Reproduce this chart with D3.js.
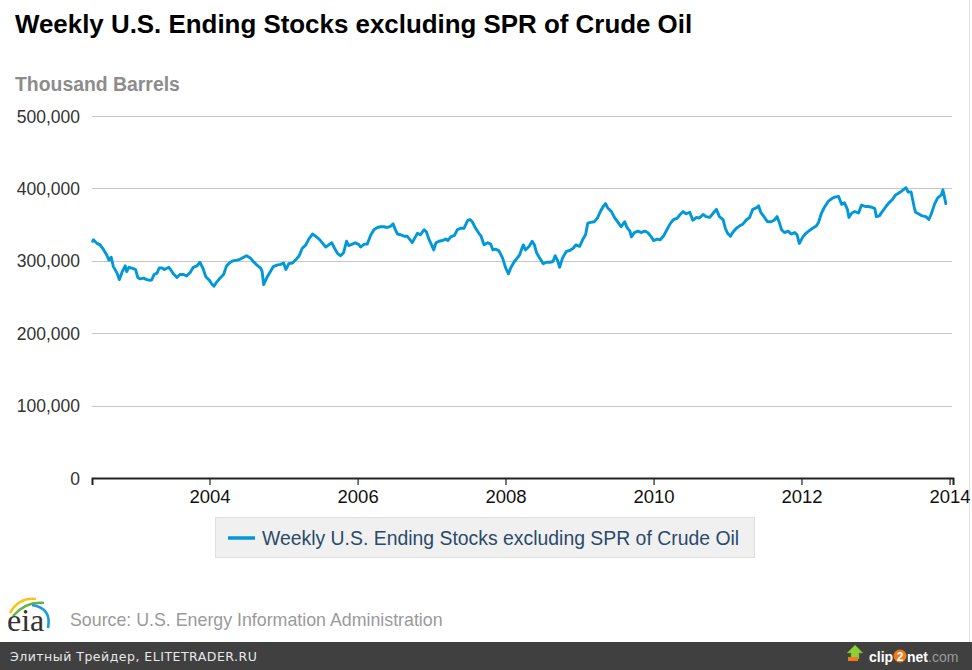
<!DOCTYPE html>
<html>
<head>
<meta charset="utf-8">
<script src="https://cdn.jsdelivr.net/npm/d3@7/dist/d3.min.js"></script>
<style>
  html, body { margin: 0; padding: 0; background: #fff; }
  svg { display: block; }
</style>
</head>
<body>
<svg id="chart" width="972" height="670"></svg>
<script>
// ---- data (decimal year, thousand barrels) ----
const title = "Weekly U.S. Ending Stocks excluding SPR of Crude Oil";
const unitLabel = "Thousand Barrels";
const seriesName = "Weekly U.S. Ending Stocks excluding SPR of Crude Oil";
const sourceText = "Source: U.S. Energy Information Administration";
const footerText = "Элитный Трейдер, ELITETRADER.RU";

const xDomain = ["2002-05-31", "2014-01-18"];
const yTicks = [0, 100000, 200000, 300000, 400000, 500000];

const years = [
  2002.42,2002.43,2002.48,2002.52,2002.57,2002.61,2002.64,2002.67,2002.70,2002.75,2002.78,2002.82,2002.86,2002.88,2002.91,2002.95,
  2003.00,2003.03,2003.06,2003.11,2003.15,2003.20,2003.22,2003.25,2003.29,2003.32,2003.36,2003.39,2003.45,2003.48,2003.51,2003.56,
  2003.60,2003.65,2003.69,2003.74,2003.78,2003.83,2003.87,2003.91,2003.95,
  2004.00,2004.03,2004.06,2004.10,2004.14,2004.19,2004.23,2004.28,2004.32,2004.37,2004.41,2004.46,2004.50,2004.55,2004.59,2004.64,
  2004.69,2004.71,2004.73,2004.78,2004.82,2004.86,2004.91,2004.96,
  2005.00,2005.03,2005.07,2005.12,2005.16,2005.21,2005.25,2005.30,2005.34,2005.39,2005.43,2005.48,2005.52,2005.57,2005.61,2005.65,
  2005.69,2005.73,2005.77,2005.81,2005.85,2005.88,2005.93,2005.97,
  2006.02,2006.04,2006.09,2006.13,2006.18,2006.22,2006.27,2006.31,2006.36,2006.40,2006.45,2006.48,2006.51,2006.54,2006.58,2006.63,
  2006.67,2006.71,2006.74,2006.77,2006.81,2006.85,2006.90,2006.93,2006.96,
  2007.00,2007.03,2007.06,2007.10,2007.15,2007.19,2007.22,2007.26,2007.31,2007.35,2007.40,2007.44,2007.49,2007.52,2007.55,2007.59,
  2007.64,2007.67,2007.71,2007.76,2007.80,2007.83,2007.87,2007.91,2007.96,
  2008.00,2008.04,2008.07,2008.12,2008.16,2008.19,2008.24,2008.27,2008.32,2008.36,2008.39,2008.42,2008.46,2008.51,2008.55,2008.60,
  2008.64,2008.67,2008.70,2008.73,2008.77,2008.82,2008.86,2008.91,2008.95,
  2009.00,2009.04,2009.08,2009.11,2009.15,2009.20,2009.24,2009.29,2009.32,2009.35,2009.38,2009.43,2009.47,2009.52,2009.56,2009.61,
  2009.64,2009.68,2009.70,2009.74,2009.79,2009.83,2009.88,2009.92,2009.97,
  2010.00,2010.05,2010.09,2010.14,2010.18,2010.23,2010.27,2010.32,2010.36,2010.40,2010.44,2010.49,2010.53,2010.58,2010.62,2010.67,
  2010.71,2010.76,2010.80,2010.85,2010.89,2010.94,2010.97,
  2011.00,2011.04,2011.07,2011.12,2011.16,2011.21,2011.25,2011.30,2011.34,2011.39,2011.42,2011.45,2011.50,2011.54,2011.59,2011.63,
  2011.67,2011.70,2011.73,2011.77,2011.82,2011.86,2011.91,2011.94,2011.97,
  2012.02,2012.06,2012.11,2012.15,2012.20,2012.23,2012.27,2012.31,2012.36,2012.41,2012.45,2012.50,2012.54,2012.58,2012.62,2012.64,
  2012.68,2012.72,2012.77,2012.81,2012.86,2012.90,2012.95,2012.99,
  2013.01,2013.05,2013.09,2013.14,2013.18,2013.23,2013.27,2013.32,2013.36,2013.41,2013.44,2013.48,2013.52,2013.54,2013.58,2013.63,
  2013.68,2013.72,2013.75,2013.80,2013.84,2013.89,2013.91,2013.95
];

const stocks = [
  327000,329000,324000,322000,315000,308000,301000,305000,292000,283000,274000,285000,293000,285000,291000,290000,
  288000,277000,275000,276000,274000,273000,274000,281000,283000,290000,290000,288000,291000,287000,282000,277000,
  281000,281000,279000,284000,291000,293000,298000,290000,278000,
  273000,268000,265000,271000,276000,281000,293000,298000,300000,301000,302000,305000,307000,304000,299000,294000,
  290000,285000,267000,278000,285000,292000,294000,295000,
  297000,288000,296000,297000,301000,307000,317000,322000,330000,337000,334000,330000,325000,319000,322000,325000,
  317000,310000,307000,311000,327000,321000,323000,325000,
  322000,319000,323000,323000,336000,343000,346000,347000,347000,346000,348000,351000,343000,337000,336000,334000,
  334000,329000,325000,331000,338000,336000,343000,340000,331000,
  322000,315000,325000,327000,328000,330000,328000,333000,335000,343000,345000,345000,356000,357000,354000,346000,
  338000,334000,322000,325000,323000,315000,316000,314000,304000,
  291000,282000,290000,299000,304000,308000,322000,315000,320000,327000,322000,311000,304000,296000,298000,298000,
  299000,307000,301000,291000,304000,313000,314000,317000,322000,
  320000,329000,336000,352000,353000,354000,359000,370000,375000,379000,373000,368000,360000,353000,347000,354000,
  346000,341000,333000,339000,341000,339000,341000,339000,333000,
  328000,330000,329000,335000,343000,352000,357000,359000,364000,368000,365000,367000,356000,360000,359000,364000,
  361000,360000,365000,371000,361000,357000,345000,
  338000,334000,339000,345000,348000,351000,356000,360000,371000,373000,376000,367000,360000,354000,354000,356000,
  361000,353000,343000,339000,341000,337000,339000,336000,324000,
  333000,338000,342000,345000,348000,353000,366000,374000,382000,386000,388000,389000,378000,380000,371000,360000,
  366000,368000,366000,377000,375000,375000,374000,372000,
  361000,362000,368000,375000,380000,385000,391000,394000,397000,401000,395000,395000,375000,367000,365000,362000,
  361000,357000,364000,379000,387000,391000,398000,379000
];

// ---- helpers ----
function fromDecimalYear(y) {
  const yr = Math.floor(y);
  const a = new Date(yr, 0, 1), b = new Date(yr + 1, 0, 1);
  return new Date(+a + (y - yr) * (b - a));
}
const data = years.map((y, i) => ({ date: fromDecimalYear(y), value: stocks[i] }));

const svg = d3.select("#chart");
const W = 972, H = 670;
const plot = { left: 92, right: 953, top: 116, bottom: 478 };

const x = d3.scaleTime()
  .domain(xDomain.map(s => new Date(s + "T00:00:00")))
  .range([plot.left, plot.right]);
const y = d3.scaleLinear().domain([0, 500000]).range([plot.bottom, plot.top]);

const font = "'Liberation Sans', Arial, Helvetica, sans-serif";

// right border line
svg.append("line").attr("x1", 969.5).attr("x2", 969.5).attr("y1", 0).attr("y2", 642)
  .attr("stroke", "#e2e2e2").attr("stroke-width", 1);

// title
svg.append("text").attr("x", 15).attr("y", 33)
  .attr("font-family", font).attr("font-weight", "bold").attr("font-size", 25.9)
  .attr("fill", "#000").text(title);

// unit label
svg.append("text").attr("x", 15).attr("y", 91)
  .attr("font-family", font).attr("font-weight", "bold").attr("font-size", 19.4)
  .attr("fill", "#8c8c8c").text(unitLabel);

// gridlines
svg.append("g").selectAll("line").data(yTicks.filter(d => d > 0)).join("line")
  .attr("x1", plot.left).attr("x2", plot.right - 1)
  .attr("y1", d => Math.round(y(d)) + 0.5).attr("y2", d => Math.round(y(d)) + 0.5)
  .attr("stroke", "#c6c6c6").attr("stroke-width", 1.2);

// y axis labels
const yAxis = d3.axisLeft(y).tickValues(yTicks).tickFormat(d3.format(",")).tickSize(0).tickPadding(0);
const gy = svg.append("g").attr("transform", `translate(80,0)`).call(yAxis);
gy.select(".domain").remove();
gy.selectAll("text").attr("font-family", font).attr("font-size", 17.5).attr("fill", "#333")
  .attr("dy", "0.35em");

// x axis
const xAxis = d3.axisBottom(x).ticks(d3.timeYear.every(2)).tickFormat(d3.timeFormat("%Y"))
  .tickSizeOuter(0).tickSize(7).tickPadding(5);
const gx = svg.append("g").attr("transform", `translate(0,${plot.bottom})`).call(xAxis);
gx.select(".domain").attr("stroke", "#222").attr("stroke-width", 2);
gx.selectAll(".tick line").attr("stroke", "#222").attr("stroke-width", 1.2);
gx.selectAll("text").attr("font-family", font).attr("font-size", 18.5).attr("fill", "#111");

// line
const line = d3.line().x(d => x(d.date)).y(d => y(d.value)).curve(d3.curveLinear);
svg.append("path").datum(data).attr("d", line)
  .attr("fill", "none").attr("stroke", "#0098d8").attr("stroke-width", 2.9)
  .attr("stroke-linejoin", "round").attr("stroke-linecap", "round");

// legend
const lg = svg.append("g");
lg.append("rect").attr("x", 215.5).attr("y", 517.5).attr("width", 539).attr("height", 40)
  .attr("fill", "#f0f0f0").attr("stroke", "#dedede");
lg.append("line").attr("x1", 228).attr("x2", 255).attr("y1", 538).attr("y2", 538)
  .attr("stroke", "#0098d8").attr("stroke-width", 3.5);
lg.append("text").attr("x", 262).attr("y", 545)
  .attr("font-family", font).attr("font-size", 19.4).attr("fill", "#2b4a6a").text(seriesName);

// eia logo
const logo = svg.append("g");
logo.append("path").attr("d", "M10,613 Q19,597 36,599").attr("fill", "none").attr("stroke", "#f5c518").attr("stroke-width", 2.6);
logo.append("path").attr("d", "M13,616 Q26,601 44,603").attr("fill", "none").attr("stroke", "#66b345").attr("stroke-width", 2.6);
logo.append("path").attr("d", "M32,605 Q52,608 48,628").attr("fill", "none").attr("stroke", "#1b9bd7").attr("stroke-width", 2.6);
logo.append("text").attr("x", 7).attr("y", 631)
  .attr("font-family", "'Liberation Serif', 'DejaVu Serif', serif").attr("font-size", 32)
  .attr("fill", "#333").text("eia");

// source text
svg.append("text").attr("x", 70).attr("y", 626)
  .attr("font-family", font).attr("font-size", 17.8).attr("fill", "#9a9a9a").text(sourceText);

// footer bar
svg.append("rect").attr("x", 0).attr("y", 642).attr("width", W).attr("height", 28).attr("fill", "#404040");
svg.append("text").attr("x", 10).attr("y", 661)
  .attr("font-family", "'DejaVu Sans', Verdana, sans-serif").attr("font-size", 12.5)
  .attr("letter-spacing", 0.5).attr("fill", "#e8e8e8").text(footerText);

// clip2net logo
const c2 = svg.append("g");
c2.append("path").attr("d", "M855,645 L863,653 L859,653 L859,659 L851,659 L851,653 L847,653 Z")
  .attr("fill", "#8ed03a").attr("stroke", "#5a9a20").attr("stroke-width", 0.6);
c2.append("rect").attr("x", 848).attr("y", 657).attr("width", 10).attr("height", 4).attr("fill", "#f07a1a");
c2.append("text").attr("x", 869).attr("y", 662)
  .attr("font-family", font).attr("font-size", 14).attr("font-weight", "bold").attr("fill", "#fff").text("clip");
c2.append("circle").attr("cx", 900).attr("cy", 656).attr("r", 6.5).attr("fill", "#f07a1a");
c2.append("text").attr("x", 900).attr("y", 660.5).attr("text-anchor", "middle")
  .attr("font-family", font).attr("font-size", 12).attr("font-weight", "bold").attr("fill", "#fff").text("2");
const c2b = c2.append("text").attr("x", 907).attr("y", 662)
  .attr("font-family", font).attr("font-size", 14);
c2b.append("tspan").attr("fill", "#fff").attr("font-weight", "bold").text("net");
c2b.append("tspan").attr("fill", "#9a9a9a").text(".com");
</script>
</body>
</html>
